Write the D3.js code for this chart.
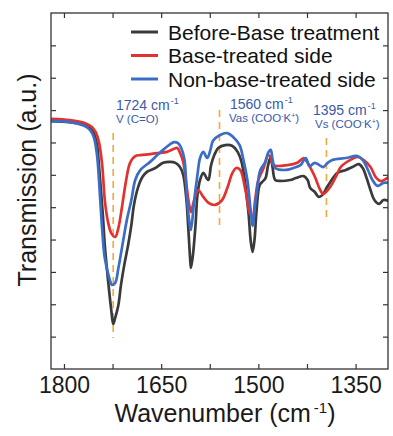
<!DOCTYPE html>
<html>
<head>
<meta charset="utf-8">
<script src="https://cdn.jsdelivr.net/npm/d3@7"></script>
<style>
  html, body { margin: 0; padding: 0; background: #fff; }
  svg { display: block; font-family: "Liberation Sans", Arial, sans-serif; }
</style>
</head>
<body>
<svg id="chart" width="393" height="436"></svg>
<script>
// FTIR spectra: wavenumber (cm-1) and transmission (a.u.)
const beforeBase = [
  [1820,7.66],[1791,7.63],[1768,7.54],[1760,7.45],[1754,7.29],[1749,6.92],[1746,6.30],
  [1743,5.53],[1740,4.76],[1737,3.83],[1732,2.75],[1727,1.82],[1724,1.39],[1721,1.58],
  [1716,1.98],[1712,2.60],[1707,3.21],[1701,3.83],[1696,4.45],[1692,5.07],[1686,5.59],
  [1679,5.93],[1672,6.09],[1659,6.21],[1647,6.37],[1636,6.40],[1628,6.37],[1621,6.24],
  [1616,6.00],[1611,5.22],[1608,4.30],[1605,3.31],[1604,3.12],[1601,3.52],[1597,4.45],
  [1594,5.38],[1590,5.84],[1585,6.06],[1580,5.90],[1577,5.84],[1573,6.30],[1568,6.61],
  [1562,6.83],[1551,6.92],[1540,6.89],[1532,6.71],[1526,6.40],[1520,5.69],[1515,4.76],
  [1512,3.99],[1509,3.62],[1506,3.99],[1503,4.85],[1498,5.69],[1494,5.78],[1489,5.90],
  [1485,6.30],[1481,6.55],[1478,6.21],[1474,5.84],[1466,5.81],[1451,5.84],[1442,5.90],
  [1430,5.96],[1424,5.84],[1420,5.59],[1413,5.47],[1407,5.32],[1401,5.38],[1395,5.59],
  [1389,5.78],[1378,6.06],[1365,6.15],[1355,6.24],[1345,6.33],[1339,6.21],[1333,5.90],
  [1327,5.53],[1321,5.22],[1314,5.10],[1307,5.22],[1299,5.19]
];

const baseTreated = [
  [1820,7.73],[1791,7.69],[1768,7.60],[1757,7.48],[1751,7.32],[1746,7.01],[1741,6.30],
  [1737,5.22],[1732,4.54],[1727,4.20],[1721,4.08],[1716,4.36],[1710,5.07],[1704,5.84],
  [1698,6.37],[1690,6.58],[1682,6.61],[1667,6.64],[1652,6.68],[1641,6.71],[1631,6.80],
  [1625,6.83],[1621,6.68],[1616,6.40],[1611,5.69],[1608,5.22],[1604,4.85],[1601,5.07],
  [1597,5.35],[1593,5.53],[1585,5.32],[1577,5.13],[1567,5.07],[1556,5.22],[1548,5.59],
  [1540,6.06],[1534,6.21],[1528,6.15],[1520,5.53],[1514,4.85],[1509,4.67],[1505,5.22],
  [1500,5.84],[1492,6.21],[1485,6.61],[1481,6.55],[1477,6.30],[1455,6.30],[1440,6.37],
  [1430,6.52],[1424,6.37],[1418,6.15],[1412,5.90],[1406,5.59],[1400,5.41],[1393,5.53],
  [1387,5.69],[1379,6.00],[1373,6.24],[1358,6.46],[1347,6.55],[1338,6.46],[1327,6.24],
  [1319,5.93],[1311,5.81],[1299,5.93]
];

const nonBaseTreated = [
  [1820,7.66],[1791,7.63],[1768,7.51],[1760,7.39],[1754,7.17],[1749,6.61],[1744,5.22],
  [1741,4.30],[1737,3.43],[1730,2.81],[1726,2.60],[1721,2.66],[1716,3.12],[1709,3.92],
  [1703,4.60],[1696,5.22],[1690,5.84],[1682,6.15],[1667,6.40],[1656,6.61],[1647,6.77],
  [1636,6.95],[1630,7.01],[1624,6.98],[1619,6.83],[1614,6.46],[1610,5.22],[1605,4.36],
  [1604,4.30],[1599,5.22],[1594,6.00],[1590,6.52],[1585,6.71],[1579,6.52],[1574,6.77],
  [1570,7.05],[1559,7.23],[1548,7.29],[1539,7.17],[1529,6.92],[1523,6.46],[1517,5.84],
  [1512,4.91],[1509,4.42],[1505,5.07],[1502,5.53],[1497,6.15],[1489,6.40],[1485,6.68],
  [1481,6.77],[1478,6.46],[1474,6.21],[1458,6.15],[1446,6.21],[1435,6.30],[1427,6.52],
  [1421,6.27],[1413,6.37],[1406,6.30],[1400,6.24],[1393,6.37],[1386,6.46],[1365,6.52],
  [1347,6.58],[1339,6.46],[1331,6.15],[1324,5.84],[1316,5.66],[1307,5.75],[1299,5.75]
];

const seriesNames = ["Before-Base treatment", "Base-treated side", "Non-base-treated side"];
const seriesColors = ["#3a3a3a", "#e2322f", "#3b6cc6"];

// Marker bands: wavenumber, top and bottom of the dashed guide (transmission units)
const bandWavenumbers = [1724, 1560, 1395];
const bandTop = [7.29, 8.00, 7.14];
const bandBottom = [0.96, 4.30, 4.54];
const bandLabels = ["1724", "1560", "1395"];
const bandModes = [["V (C=O)"], ["Vas (COO", "-", "K", "+", ")"], ["Vs (COO", "-", "K", "+", ")"]];

const xTicks = [1800, 1725, 1650, 1575, 1500, 1425, 1350];
const xTickLabels = [1800, 1650, 1500, 1350];
const yTicks = [1, 2, 3, 4, 5, 6, 7, 8, 9, 10];

const svg = d3.select("#chart");
const margin = { top: 13, right: 5, bottom: 67, left: 51 };
const W = 393 - margin.left - margin.right;
const H = 436 - margin.top - margin.bottom;
const g = svg.append("g").attr("transform", `translate(${margin.left},${margin.top})`);

const x = d3.scaleLinear().domain([1820, 1300]).range([0, W]);
const y = d3.scaleLinear().domain([0, 11]).range([H, 0]);

svg.append("defs").append("clipPath").attr("id", "plotClip")
  .append("rect").attr("width", W).attr("height", H);

// Axes with inward ticks on all four sides
const fmt = d => xTickLabels.includes(d) ? String(d) : "";
const axisB = g.append("g").attr("transform", `translate(0,${H})`)
  .call(d3.axisBottom(x).tickValues(xTicks).tickSizeInner(-5).tickSizeOuter(0).tickPadding(8).tickFormat(fmt));
const axisT = g.append("g")
  .call(d3.axisTop(x).tickValues(xTicks).tickSizeInner(-5).tickSizeOuter(0).tickFormat(""));
const axisL = g.append("g")
  .call(d3.axisLeft(y).tickValues(yTicks).tickSizeInner(-5).tickSizeOuter(0).tickFormat(""));
const axisR = g.append("g").attr("transform", `translate(${W},0)`)
  .call(d3.axisRight(y).tickValues(yTicks).tickSizeInner(-5).tickSizeOuter(0).tickFormat(""));

[axisB, axisT, axisL, axisR].forEach(a => {
  a.select(".domain").remove();
  a.selectAll(".tick line").attr("stroke", "#333").attr("stroke-width", 1.2);
});
axisB.selectAll(".tick text")
  .attr("font-size", 23).attr("fill", "#1a1a1a")
  .attr("font-family", "Liberation Sans, Arial, sans-serif");

// Dashed guides at the assigned bands
const plot = g.append("g").attr("clip-path", "url(#plotClip)");
plot.selectAll("line.band").data(bandWavenumbers).join("line")
  .attr("class", "band")
  .attr("x1", d => x(d)).attr("x2", d => x(d))
  .attr("y1", (d, i) => y(bandTop[i])).attr("y2", (d, i) => y(bandBottom[i]))
  .attr("stroke", "#f2a93b").attr("stroke-width", 1.6)
  .attr("stroke-dasharray", "7,5");

// Spectra
const line = d3.line()
  .x(d => x(d[0])).y(d => y(d[1]))
  .curve(d3.curveCatmullRom.alpha(0.5));
const allSeries = [beforeBase, baseTreated, nonBaseTreated];
plot.selectAll("path.spec").data(allSeries).join("path")
  .attr("class", "spec")
  .attr("d", line)
  .attr("fill", "none")
  .attr("stroke", (d, i) => seriesColors[i])
  .attr("stroke-width", 2.7)
  .attr("stroke-linejoin", "round");

// Frame
g.append("rect").attr("width", W).attr("height", H)
  .attr("fill", "none").attr("stroke", "#333").attr("stroke-width", 1.3);

// Band annotations
const annColor = "#3a5aa8";
const annPos = [
  { x: 116, y1: 110, x2: 116, y2: 123 },
  { x: 230, y1: 109, x2: 229, y2: 122 },
  { x: 313, y1: 115, x2: 315, y2: 128 }
];
bandLabels.forEach((lab, i) => {
  const p = annPos[i];
  const t = svg.append("text").attr("x", p.x).attr("y", p.y1)
    .attr("font-size", 14).attr("fill", annColor);
  t.append("tspan").text(lab + " cm");
  t.append("tspan").attr("font-size", 9).attr("dy", -6).attr("dx", 1).text("-1");
  const m = svg.append("text").attr("x", p.x2).attr("y", p.y2)
    .attr("font-size", 11.5).attr("fill", annColor);
  const parts = bandModes[i];
  if (parts.length === 1) {
    m.append("tspan").text(parts[0]);
  } else {
    m.append("tspan").text(parts[0]);
    m.append("tspan").attr("font-size", 7).attr("dy", -4).text(parts[1]);
    m.append("tspan").attr("dy", 4).text(parts[2]);
    m.append("tspan").attr("font-size", 7).attr("dy", -4).text(parts[3]);
    m.append("tspan").attr("dy", 4).text(parts[4]);
  }
});

// Legend
const legend = svg.append("g").attr("transform", "translate(131,32)");
seriesNames.forEach((name, i) => {
  const row = legend.append("g").attr("transform", `translate(0,${i * 23.5})`);
  row.append("line").attr("x1", 0).attr("x2", 27).attr("y1", 0).attr("y2", 0)
    .attr("stroke", seriesColors[i]).attr("stroke-width", 3);
  row.append("text").attr("x", 37).attr("y", 7.5)
    .attr("font-size", 21).attr("fill", "#111").text(name);
});

// Axis titles
const xt = svg.append("text").attr("x", 225).attr("y", 422)
  .attr("text-anchor", "middle").attr("font-size", 25).attr("fill", "#1a1a1a");
xt.append("tspan").text("Wavenumber (cm");
xt.append("tspan").attr("font-size", 15).attr("dy", -9).attr("dx", 3).text("-1");
xt.append("tspan").attr("dy", 9).text(")");

svg.append("text")
  .attr("transform", "translate(36,180) rotate(-90)")
  .attr("text-anchor", "middle").attr("font-size", 25).attr("fill", "#1a1a1a")
  .text("Transmission (a.u.)");
</script>
</body>
</html>
